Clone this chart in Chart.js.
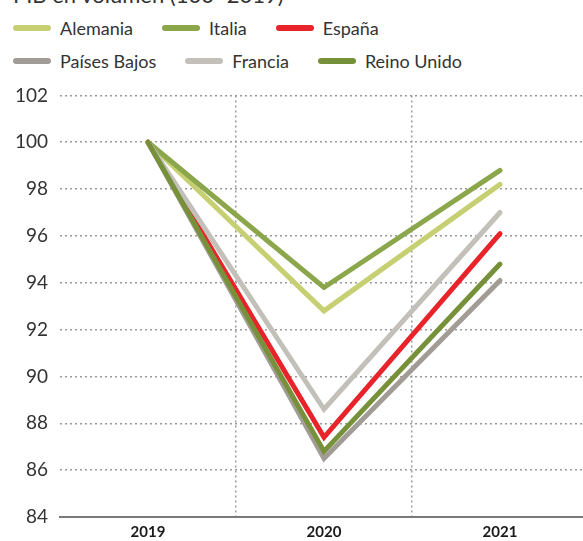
<!DOCTYPE html>
<html>
<head>
<meta charset="utf-8">
<script src="https://cdn.jsdelivr.net/npm/chart.js@4"></script>
<style>
  html, body { margin: 0; padding: 0; background: #fff; }
  body { width: 583px; height: 541px; overflow: hidden; position: relative; font-family: Lato, sans-serif; color: #333; }
  #title { position: absolute; left: 13px; top: -16px; font-size: 22px; line-height: 22px; white-space: nowrap; }
  #legend { position: absolute; left: 13px; top: 11px; width: 560px; }
  .row { display: flex; height: 33px; align-items: center; }
  .item { display: flex; align-items: center; margin-right: 29px; font-size: 18px; }
  .mark { width: 38px; height: 6px; border-radius: 3px; margin-right: 9px; }
  #wrap { position: absolute; left: 0; top: 72px; width: 600px; height: 471px; }
</style>
</head>
<body>
<div id="title">PIB en volumen (100=2019)</div>
<div id="legend"></div>
<div id="wrap"><canvas id="chart"></canvas></div>
<script>
const years = ['2019', '2020', '2021'];
const yTicks = [84, 86, 88, 90, 92, 94, 96, 98, 100, 102];

const countries = ['Alemania', 'Italia', 'España', 'Países Bajos', 'Francia', 'Reino Unido'];
const alemania = [100, 92.8, 98.2];
const italia = [100, 93.8, 98.8];
const espana = [100, 87.4, 96.1];
const paisesBajos = [100, 86.5, 94.1];
const francia = [100, 88.6, 97.0];
const reinoUnido = [100, 86.8, 94.8];

const colors = ['#c6d072', '#8ba64b', '#e8232a', '#a19c95', '#c3c0ba', '#77913a'];
const series = [alemania, italia, espana, paisesBajos, francia, reinoUnido];
// which line sits on top (lower = drawn later)
const drawOrder = [4, 3, 2, 5, 1, 0];

// html legend, 3 per row like the original
const legend = document.getElementById('legend');
for (let r = 0; r < 2; r++) {
    const row = document.createElement('div');
    row.className = 'row';
    for (let i = r * 3; i < r * 3 + 3; i++) {
        const item = document.createElement('div');
        item.className = 'item';
        item.innerHTML = `<span class="mark" style="background:${colors[i]}"></span><span>${countries[i]}</span>`;
        row.appendChild(item);
    }
    legend.appendChild(row);
}

const datasets = countries.map((name, i) => ({
    label: name,
    data: series[i],
    borderColor: colors[i],
    backgroundColor: colors[i],
    borderWidth: 5,
    pointRadius: 0,
    borderJoinStyle: 'miter',
    borderCapStyle: 'round',
    tension: 0,
    order: drawOrder[i]
}));

const ctx = document.getElementById('chart').getContext('2d');
new Chart(ctx, {
    type: 'line',
    data: { labels: years, datasets: datasets },
    options: {
        responsive: true,
        maintainAspectRatio: false,
        animation: false,
        layout: { padding: { top: 7, right: 12, bottom: 0, left: 0 } },
        plugins: {
            legend: { display: false },
            tooltip: { enabled: false }
        },
        scales: {
            x: {
                offset: true,
                afterFit: scale => { scale.height = 26; },
                grid: {
                    offset: true,
                    drawTicks: false,
                    color: c => (c.index === 0 || c.index === years.length) ? 'rgba(0,0,0,0)' : '#9a9a9a',
                    lineWidth: 1.5
                },
                // dash here styles the grid lines, the axis line stays solid
                border: { display: true, color: '#7a7a7a', width: 2, dash: [2, 3] },
                ticks: {
                    color: '#1a1a1a',
                    padding: 6,
                    font: { family: 'Lato', size: 15, weight: 'bold' }
                }
            },
            y: {
                min: 84,
                max: 102,
                afterFit: scale => { scale.width = 60; },
                afterBuildTicks: scale => { scale.ticks = yTicks.map(v => ({ value: v })); },
                grid: {
                    drawTicks: false,
                    color: '#9a9a9a',
                    lineWidth: 1.5
                },
                border: { display: false, dash: [2, 3] },
                ticks: {
                    color: '#333',
                    padding: 12,
                    font: { family: 'Lato', size: 19 }
                }
            }
        }
    }
});
</script>
</body>
</html>
